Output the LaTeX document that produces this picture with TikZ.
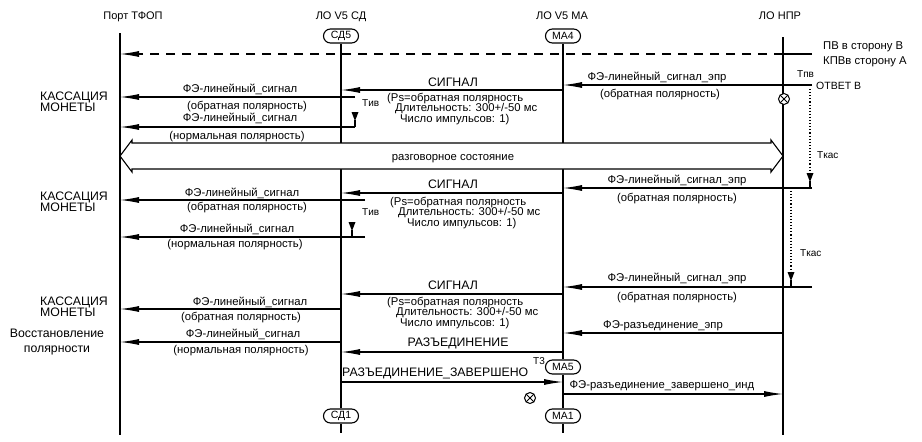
\documentclass[tikz,border=0pt]{standalone}
\usepackage{fontspec}
\setmainfont{Liberation Sans}
\usetikzlibrary{arrows.meta}
\newcommand\tmrmark[1]{%
  \fill ([shift={(-3.5,-15)}]#1) -- ++(7,0) -- ++(-3.5,9) -- cycle;
  \draw[line width=1.1pt] (#1) -- ++(0,-7);}
\begin{document}
\begin{tikzpicture}[x=1pt,y=-1pt,
  every node/.style={inner sep=0pt},
  life/.style={line width=1.3pt},
  msg/.style={line width=1.1pt,-{Latex[length=19pt,width=6pt]}},
  ln/.style={font=\fontsize{11.3}{12}\selectfont, anchor=base},
  lnw/.style={font=\fontsize{11.3}{12}\selectfont, anchor=base west},
  big/.style={font=\fontsize{12.3}{13}\selectfont, anchor=base},
  hdr/.style={font=\fontsize{11}{12}\selectfont, anchor=base},
  sm/.style={font=\fontsize{10}{10}\selectfont, anchor=base west},
  side/.style={font=\fontsize{12.3}{11.5}\selectfont, align=left, anchor=west},
  oval/.style={draw, line width=1.1pt, rounded corners=7pt, fill=white,
    minimum width=35pt, minimum height=14pt, font=\fontsize{10.5}{11}\selectfont},
  dots/.style={dotted, line width=1.1pt},
  xmark/.style={draw, circle, line width=1pt, minimum size=11pt,
    path picture={\draw[line width=1pt] (path picture bounding box.north west) -- (path picture bounding box.south east)
      (path picture bounding box.north east) -- (path picture bounding box.south west);}}
]
\useasboundingbox (0,0) rectangle (922,442);
% lifeline x positions
\coordinate (T) at (120,0);
\coordinate (SD) at (341,0);
\coordinate (MA) at (563,0);
\coordinate (NP) at (783,0);
\coordinate (NX) at (812,0);
% headers
\node[hdr] (hT) at (133,19) {Порт ТФОП};
\node[hdr] (hSD) at (341,19) {ЛО V5 СД};
\node[hdr] (hMA) at (562,19) {ЛО V5 МА};
\node[hdr] (hNP) at (780,19) {ЛО НПР};
% ovals
\node[oval] (sd5) at (341,36) {СД5};
\node[oval] (ma4) at (563,36) {МА4};
\node[oval] (ma5) at (563,367) {МА5};
\node[oval] (sd1) at (341,416) {СД1};
\node[oval] (ma1) at (563,416) {МА1};
% lifelines
\coordinate (Ttop) at (120,33); \coordinate (Tbot) at (120,435);
\coordinate (NPtop) at (783,37); \coordinate (NPbot) at (783,435);
\coordinate (SDbot) at (341,433); \coordinate (MAbot) at (563,433);
\draw[life] (Ttop) -- (Tbot);
\draw[life] (NPtop) -- (NPbot);
\draw[life] (sd5.south) -- (sd1.north);
\draw[life] (sd1.south) -- (SDbot);
\draw[life] (ma4.south) -- (ma5.north);
\draw[life] (ma5.south) -- (ma1.north);
\draw[life] (ma1.south) -- (MAbot);

% dashed PV line
\draw[line width=1.1pt] (NX |- 0,54) -- (NP |- 0,54);
\draw[msg, dash pattern=on 9pt off 7pt] (NP |- 0,54) -- (T |- 0,54);
\node[lnw] (pv) at (823,49) {ПВ в сторону В};
\node[lnw] (kpv) at (823,64) {КПВв сторону А};

% row 1
\draw[msg] (NX |- 0,85) -- (MA |- 0,85);
\node[ln] (l1a) at (657,80) {ФЭ-линейный\_сигнал\_эпр};
\node[ln] (l1b) at (660,97) {(обратная полярность)};
\node[sm] (tpv) at (797,77) {Tпв};
\node[font=\fontsize{10.5}{11}\selectfont, anchor=base west] (otv) at (816,89) {ОТВЕТ В};
\node[xmark, fill=white] (x1) at (784,99) {};
\coordinate (k1top) at (810,89);
\coordinate (k1) at (810,188);
\draw[dots] (k1top) -- ([yshift=15pt]k1);
\tmrmark{k1}
\node[sm] (tk1) at (817,158) {Tкас};

\draw[msg] (MA |- 0,90) -- (SD |- 0,90);
\node[big] (s1) at (453,86) {СИГНАЛ};
\node[lnw] (s1a) at (387,101) {(Ps=обратная полярность};
\node[lnw] (s1b) at (395,111.5) {Длительность: 300+/-50 мс};
\node[lnw] (s1c) at (400,122) {Число импульсов: 1)};

\coordinate (e1) at (355,97);
\draw[msg] (e1) -- (T |- e1);
\node[ln] (f1a) at (240,92) {ФЭ-линейный\_сигнал};
\node[ln] (f1b) at (247,109) {(обратная полярность)};
\node[side] (kas1) at (40,102) {КАССАЦИЯ\\МОНЕТЫ};
\coordinate (e2) at (355,127);
\tmrmark{e2}
\node[sm] (tiv1) at (362,106) {Tив};
\draw[msg] (e2) -- (T |- e2);
\node[ln] (f2a) at (240,121) {ФЭ-линейный\_сигнал};
\node[ln] (f2b) at (237,139) {(нормальная полярность)};

% conversation double arrow
\draw[line width=1.1pt, fill=white] (120,156) -- (132,140) -- (132,143) -- (771,143) -- (771,140)
  -- (783,156) -- (771,172) -- (771,169) -- (132,169) -- (132,172) -- cycle;
\node[ln] (conv) at (453,160) {разговорное состояние};

% row 2
\draw[msg] (NX |- 0,188) -- (MA |- 0,188);
\node[ln] (l2a) at (677,183) {ФЭ-линейный\_сигнал\_эпр};
\node[ln] (l2b) at (677,201) {(обратная полярность)};

\draw[msg] (MA |- 0,193) -- (SD |- 0,193);
\node[big] (s2) at (453,188) {СИГНАЛ};
\node[lnw] (s2a) at (390,205) {(Ps=обратная полярность};
\node[lnw] (s2b) at (398,215.5) {Длительность: 300+/-50 мс};
\node[lnw] (s2c) at (407,226) {Число импульсов: 1)};

\coordinate (e3) at (365,200);
\draw[msg] (e3) -- (T |- e3);
\node[ln] (f3a) at (242,196) {ФЭ-линейный\_сигнал};
\node[ln] (f3b) at (247,210) {(обратная полярность)};
\node[side] (kas2) at (40,202) {КАССАЦИЯ\\МОНЕТЫ};
\coordinate (e4) at (365,237);
\coordinate (e4m) at (352,237);
\tmrmark{e4m}
\node[sm] (tiv2) at (362,215) {Tив};
\draw[msg] (e4) -- (T |- e4);
\node[ln] (f4a) at (237,232) {ФЭ-линейный\_сигнал};
\node[ln] (f4b) at (235,247) {(нормальная полярность)};

\coordinate (k2top) at (791,191);
\coordinate (k2) at (791,287);
\draw[dots] (k2top) -- ([yshift=15pt]k2);
\tmrmark{k2}
\node[sm] (tk2) at (800,256) {Tкас};

% row 3
\draw[msg] (NX |- 0,287) -- (MA |- 0,287);
\node[ln] (l3a) at (677,281) {ФЭ-линейный\_сигнал\_эпр};
\node[ln] (l3b) at (677,300) {(обратная полярность)};

\draw[msg] (MA |- 0,294) -- (SD |- 0,294);
\node[big] (s3) at (453,289) {СИГНАЛ};
\node[lnw] (s3a) at (387,305) {(Ps=обратная полярность};
\node[lnw] (s3b) at (396,315.5) {Длительность: 300+/-50 мс};
\node[lnw] (s3c) at (400,326) {Число импульсов: 1)};

\draw[msg] (SD |- 0,309) -- (T |- 0,309);
\node[ln] (f5a) at (250,305) {ФЭ-линейный\_сигнал};
\node[ln] (f5b) at (241,320) {(обратная полярность)};
\node[side] (kas3) at (40,307) {КАССАЦИЯ\\МОНЕТЫ};

\draw[msg] (NP |- 0,333) -- (MA |- 0,333);
\node[ln] (l4a) at (663,328) {ФЭ-разъединение\_эпр};

\draw[msg] (SD |- 0,342) -- (T |- 0,342);
\node[ln] (f6a) at (243,337) {ФЭ-линейный\_сигнал};
\node[ln] (f6b) at (241,353) {(нормальная полярность)};
\node[font=\fontsize{12.3}{15}\selectfont, align=center] (vp) at (57,342) {Восстановление\\полярности};

\draw[msg] (MA |- 0,352) -- (SD |- 0,352);
\node[big] (raz) at (458,346) {РАЗЪЕДИНЕНИЕ};
\node[sm] (t3) at (533,364) {T3};

\draw[msg] (SD |- 0,382) -- (MA |- 0,382);
\node[big, anchor=base west] (razz) at (342,376) {РАЗЪЕДИНЕНИЕ\_ЗАВЕРШЕНО};

\draw[msg] (MA |- 0,394) -- (NP |- 0,394);
\node[ln] (l5a) at (662,388) {ФЭ-разъединение\_завершено\_инд};
\node[xmark] (x2) at (530,398) {};
\end{tikzpicture}
\end{document}
